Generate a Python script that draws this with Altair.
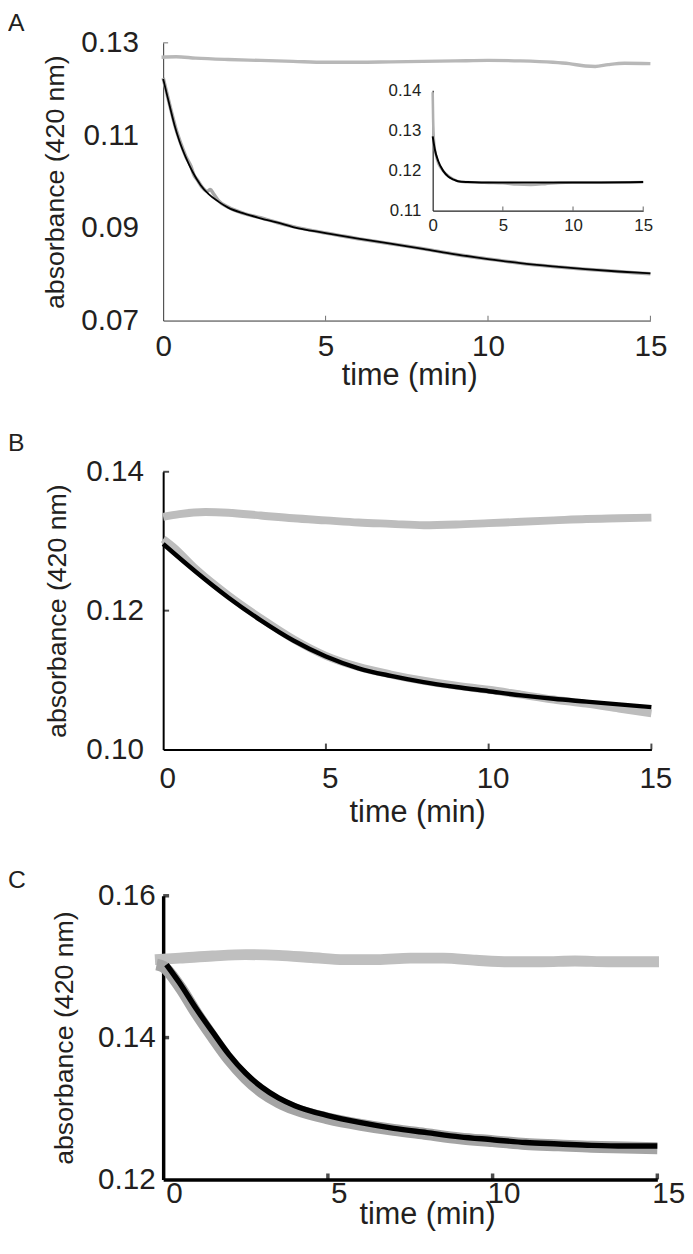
import altair as alt
import pandas as pd

FONT = "Liberation Sans"
TXT = "#231f20"

# ---------------- data ----------------
X_TICKS = [0, 5, 10, 15]

# Panel A (main)
A_ctrl_t = [-0.05, 0.4, 1, 2, 3, 4, 5, 6, 7, 8, 9, 10, 11, 12, 12.5, 13, 13.3, 13.7, 14.2, 15]
A_ctrl_y = [0.1269, 0.1270, 0.1267, 0.1264, 0.1262, 0.1260, 0.1258, 0.1258, 0.1259, 0.1260,
            0.1261, 0.1262, 0.1261, 0.1258, 0.1255, 0.1250, 0.1249, 0.1253, 0.1256, 0.1255]
A_data_t = [0, 0.1, 0.25, 0.4, 0.55, 0.7, 0.85, 0.95, 1.05, 1.2, 1.35, 1.45, 1.55, 1.7, 2.0,
            2.5, 3.0, 3.5, 4.0, 5.0, 6.0, 7.0, 8.0, 9.0, 10.0, 11.0, 12.0, 13.0, 14.0, 15.0]
A_data_y = [0.1224, 0.1195, 0.1152, 0.1112, 0.1081, 0.1054, 0.1034, 0.1014, 0.1004, 0.0988,
            0.0979, 0.0983, 0.0974, 0.0959, 0.0945, 0.0931, 0.0922, 0.0912, 0.0903, 0.0889,
            0.0877, 0.0866, 0.0855, 0.0843, 0.0833, 0.0824, 0.0817, 0.0811, 0.0806, 0.0801]
A_fit_t = [0, 0.1, 0.2, 0.35, 0.5, 0.7, 0.9, 1.15, 1.4, 1.7, 2.0, 2.5, 3.0, 3.5, 4.0, 5.0,
           6.0, 7.0, 8.0, 9.0, 10.0, 11.0, 12.0, 13.0, 14.0, 15.0]
A_fit_y = [0.1222, 0.1193, 0.1164, 0.1122, 0.1088, 0.1052, 0.1022, 0.0993, 0.0973, 0.0957,
           0.0944, 0.0931, 0.0921, 0.0912, 0.0902, 0.0889, 0.0877, 0.0866, 0.0855, 0.0843,
           0.0833, 0.0824, 0.0817, 0.0811, 0.0806, 0.0802]
A_Y_TICKS = [0.07, 0.09, 0.11, 0.13]

# Panel A (inset)
AI_data_t = [0, 0.03, 0.1, 0.3, 0.6, 1.0, 1.5, 2.0, 3.0, 4.0, 5.0, 6.0, 7.0, 8.0, 9.0, 10.0, 12.0, 15.0]
AI_data_y = [0.1395, 0.1330, 0.1272, 0.1228, 0.1205, 0.1190, 0.1178, 0.1172, 0.1170, 0.1169,
             0.1168, 0.1165, 0.1164, 0.1166, 0.1169, 0.1170, 0.1170, 0.1171]
AI_fit_t = [0, 0.15, 0.4, 0.75, 1.1, 1.5, 1.8, 2.5, 3.5, 5, 7, 10, 12, 15]
AI_fit_y = [0.1285, 0.1253, 0.1223, 0.1199, 0.1185, 0.1177, 0.1173, 0.1171, 0.1170, 0.1170,
            0.1170, 0.1170, 0.1170, 0.1171]
AI_Y_TICKS = [0.11, 0.12, 0.13, 0.14]

# Panel B
B_ctrl_t = [0, 0.5, 1.3, 2, 3, 4, 5, 6, 7, 8, 9, 10, 11, 12, 13, 14, 15]
B_ctrl_y = [0.1335, 0.1339, 0.1342, 0.1341, 0.1337, 0.1333, 0.1330, 0.1327, 0.1325, 0.1323,
            0.1324, 0.1326, 0.1328, 0.1330, 0.1332, 0.1333, 0.1334]
B_data_t = [0, 0.3, 1, 2, 3, 4, 5, 6, 7, 8, 9, 10, 11, 12, 13, 14, 15]
B_data_y = [0.1303, 0.1292, 0.1260, 0.1222, 0.1189, 0.1159, 0.1135, 0.1119, 0.1108, 0.1099,
            0.1092, 0.1086, 0.1079, 0.1072, 0.1066, 0.1059, 0.1052]
B_fit_t = [0, 1, 2, 3, 4, 5, 6, 7, 8, 9, 10, 11, 12, 13, 14, 15]
B_fit_y = [0.1296, 0.1256, 0.1219, 0.1186, 0.1157, 0.1134, 0.1117, 0.1106, 0.1097, 0.1090,
           0.1084, 0.1078, 0.1073, 0.1069, 0.1065, 0.1061]
B_Y_TICKS = [0.10, 0.12, 0.14]

# Panel C
C_ctrl_t = [-0.25, 0.5, 1.5, 2.5, 3.5, 4.5, 5.5, 6.5, 7.5, 8.5, 9.5, 10.5, 11.5, 12.5, 13.5, 15.05]
C_ctrl_y = [0.1510, 0.1512, 0.1515, 0.1517, 0.1516, 0.1513, 0.1510, 0.1510, 0.1512, 0.1512,
            0.1509, 0.1507, 0.1507, 0.1508, 0.1507, 0.1507]
C_data_t = [-0.2, 0, 0.5, 1, 1.5, 2, 2.5, 3, 3.5, 4, 5, 6, 7, 8, 9, 10, 11, 12, 13, 14, 15]
C_data_y = [0.1503, 0.1500, 0.1472, 0.1435, 0.1401, 0.1369, 0.1343, 0.1323, 0.1309, 0.1299,
            0.1286, 0.1277, 0.1270, 0.1264, 0.1258, 0.1254, 0.1250, 0.1248, 0.1246, 0.1245, 0.1244]
C_fit_t = [0.1, 0.5, 1, 1.5, 2, 2.5, 3, 3.5, 4, 5, 6, 7, 8, 9, 10, 11, 12, 13, 14, 15]
C_fit_y = [0.1503, 0.1477, 0.1441, 0.1408, 0.1376, 0.1350, 0.1330, 0.1315, 0.1304, 0.1290,
           0.1280, 0.1272, 0.1266, 0.1260, 0.1256, 0.1252, 0.1250, 0.1248, 0.1247, 0.1247]
C_Y_TICKS = [0.12, 0.14, 0.16]


def frame(t, y):
    return pd.DataFrame({"t": t, "a": y})


def line(df, xs, ys, xa, ya, color, width):
    return alt.Chart(df).mark_line(color=color, strokeWidth=width, interpolate="monotone").encode(
        x=alt.X("t:Q", scale=xs, axis=xa, title="time (min)"),
        y=alt.Y("a:Q", scale=ys, axis=ya, title="absorbance (420 nm)"),
    )


def ticks(xvals, yvals, xmin, ymin, xs, ys, xa, ya, size, thick, color):
    layers = []
    if xvals:
        d = pd.DataFrame({"t": xvals, "a": [ymin] * len(xvals)})
        layers.append(alt.Chart(d).mark_tick(orient="vertical", size=size, thickness=thick,
                                             yOffset=-size / 2, color=color).encode(
            x=alt.X("t:Q", scale=xs, axis=xa, title="time (min)"),
            y=alt.Y("a:Q", scale=ys, axis=ya, title="absorbance (420 nm)")))
    if yvals:
        d = pd.DataFrame({"t": [xmin] * len(yvals), "a": yvals})
        layers.append(alt.Chart(d).mark_tick(orient="horizontal", size=size, thickness=thick,
                                             xOffset=size / 2, color=color).encode(
            x=alt.X("t:Q", scale=xs, axis=xa, title="time (min)"),
            y=alt.Y("a:Q", scale=ys, axis=ya, title="absorbance (420 nm)")))
    return layers


def panel(letter, dx, w, h, ydom, yticks, series, st, inset=None):
    xs = alt.Scale(domain=[0, 15], nice=False, zero=False)
    ys = alt.Scale(domain=ydom, nice=False, zero=False)
    xa = alt.Axis(values=X_TICKS, format="d", ticks=False, tickSize=0, labelFlush=False,
                  labelFontSize=30, titleFontSize=31, labelPadding=st["xlp"],
                  labelOffset=st["xlo"], titlePadding=st["xtp"], titleX=st["xtx"],
                  domainColor=st["dc"], domainWidth=st["dw"])
    ya = alt.Axis(values=yticks, format=".2f", ticks=False, tickSize=0, labelFlush=False,
                  labelFontSize=30, titleFontSize=27, labelPadding=st["ylp"],
                  titlePadding=st["ytp"], domainColor=st["dc"], domainWidth=st["dw"])
    layers = []
    for df, color, width in series:
        layers.append(line(df, xs, ys, xa, ya, color, width))
    layers += ticks([5, 10, 15], [yticks[-1]] + st["ymid"], 0, ydom[0], xs, ys, xa, ya,
                    st["tks"], st["dw"], st["dc"])
    main = alt.layer(*layers)
    if inset is not None:
        main = alt.layer(main, inset).resolve_scale(x="independent", y="independent")
    return main.properties(
        width=w, height=h,
        title=alt.TitleParams(letter, anchor="start", frame="group", dx=dx, fontSize=25,
                              font=FONT, fontWeight="normal", color=TXT, offset=st["toff"]),
    )


# ---------- inset of panel A ----------
ixs = alt.Scale(domain=[0, 15], nice=False, zero=False, range=[272.7, 485.7])
iys = alt.Scale(domain=[0.11, 0.14], nice=False, zero=False, range=[169.7, 48])
ixa = alt.Axis(values=X_TICKS, format="d", ticks=False, tickSize=0, labelFlush=False,
               labelFontSize=17, labelPadding=7, title=None, orient="bottom", offset=-111.3,
               domainColor="#222222", domainWidth=1.2)
iya = alt.Axis(values=AI_Y_TICKS, format=".2f", ticks=False, tickSize=0, labelFlush=False,
               labelFontSize=17, labelPadding=12, title=None, orient="left", offset=-272.7,
               domainColor="#222222", domainWidth=1.2)


def iline(df, color, width):
    return alt.Chart(df).mark_line(color=color, strokeWidth=width, interpolate="monotone").encode(
        x=alt.X("t:Q", scale=ixs, axis=ixa), y=alt.Y("a:Q", scale=iys, axis=iya))


itick_df = pd.DataFrame({"t": [5, 10, 15], "a": [0.11] * 3})
itick = alt.Chart(itick_df).mark_tick(orient="vertical", size=4, thickness=1, yOffset=-2,
                                      color="#222222").encode(
    x=alt.X("t:Q", scale=ixs, axis=ixa), y=alt.Y("a:Q", scale=iys, axis=iya))
inset = alt.layer(
    iline(frame(AI_data_t, AI_data_y), "#b0b0b0", 2.6),
    iline(frame(AI_fit_t, AI_fit_y), "#000000", 2.0),
    itick,
)

styleA = dict(xlp=11, xlo=0, xtp=0, xtx=249, ylp=25, ytp=11, dc="#333333", dw=1,
              ymid=[], tks=5, toff=-8)
styleB = dict(xlp=14, xlo=4, xtp=5, xtx=257, ylp=20, ytp=14, dc="#000000", dw=2,
              ymid=[0.12], tks=6, toff=1)
styleC = dict(xlp=-1, xlo=11, xtp=-8, xtx=267, ylp=8, ytp=19, dc="#000000", dw=3.5,
              ymid=[0.14], tks=6, toff=-12)

pA = panel("A", -157, 493, 281, [0.07, 0.13], A_Y_TICKS, [
    (frame(A_ctrl_t, A_ctrl_y), "#b8b8b8", 3.4),
    (frame(A_data_t, A_data_y), "#a8a8a8", 3.6),
    (frame(A_fit_t, A_fit_y), "#000000", 1.8),
], styleA, inset)

pB = panel("B", -157, 494, 281, [0.10, 0.14], B_Y_TICKS, [
    (frame(B_ctrl_t, B_ctrl_y), "#bdbdbd", 8),
    (frame(B_data_t, B_data_y), "#bdbdbd", 8),
    (frame(B_fit_t, B_fit_y), "#000000", 4.5),
], styleB)

pC = panel("C", -157, 500, 287, [0.12, 0.16], C_Y_TICKS, [
    (frame(C_ctrl_t, C_ctrl_y), "#bfbfbf", 11),
    (frame(C_data_t, C_data_y), "#a4a4a4", 12),
    (frame(C_fit_t, C_fit_y), "#000000", 5.5),
], styleC)

chart = alt.vconcat(pA, pB, pC, spacing=41).properties(
    padding={"left": 0, "top": -4, "right": 0, "bottom": 0}
).configure(
    font=FONT, background="white"
).configure_view(stroke=None).configure_axis(
    labelFont=FONT, titleFont=FONT, labelColor=TXT, titleColor=TXT, grid=False,
    titleFontWeight="normal",
).configure_concat(spacing=41)

chart.save("out.html", embed_options={"renderer": "svg", "actions": False})
